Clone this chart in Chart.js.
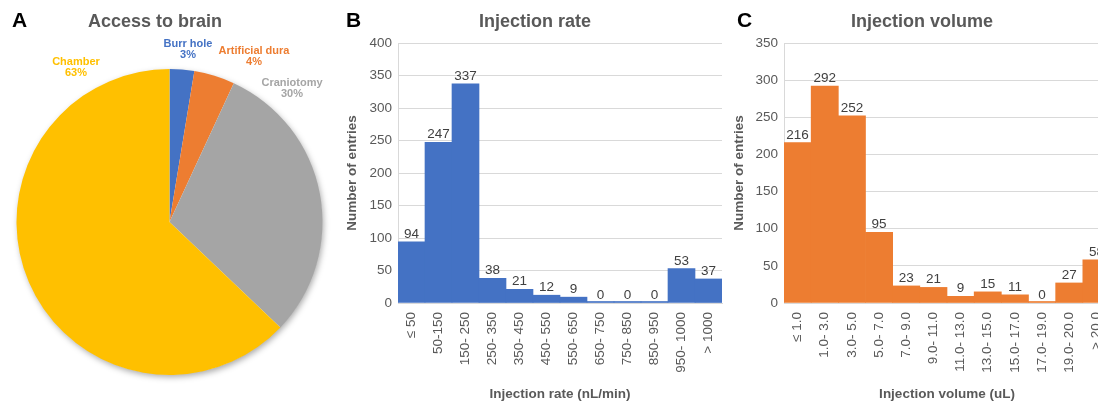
<!DOCTYPE html>
<html><head><meta charset="utf-8">
<script src="https://cdn.jsdelivr.net/npm/chart.js@4"></script>
<style>
html,body{margin:0;padding:0;width:1098px;height:402px;overflow:hidden;background:#fff;}
body{position:relative;font-family:'Liberation Sans',Arial,Helvetica,sans-serif;}
canvas{position:absolute;top:0;}
.t{position:absolute;white-space:nowrap;}
.letter{font-weight:bold;font-size:21px;line-height:21px;color:#000;}
.title{font-weight:bold;font-size:18px;line-height:18px;color:#595959;text-align:center;width:240px;}
.pl{font-weight:bold;font-size:11px;line-height:11.3px;text-align:center;width:120px;}
</style></head><body>
<canvas id="pie" width="340" height="402" style="left:0"></canvas>
<canvas id="rate" width="390" height="402" style="left:340px"></canvas>
<canvas id="vol" width="388" height="402" style="left:730px"></canvas>
<div class="t letter" style="left:12px;top:9px">A</div>
<div class="t letter" style="left:346px;top:9px">B</div>
<div class="t letter" style="left:737px;top:9px">C</div>
<div class="t title" style="left:35px;top:12px">Access to brain</div>
<div class="t title" style="left:415px;top:12px">Injection rate</div>
<div class="t title" style="left:802px;top:12px">Injection volume</div>
<script>
// ---- data ----
const accessLabels = ['Burr hole', 'Artificial dura', 'Craniotomy', 'Chamber'];
const accessValues = [2.6, 4.3, 30.2, 62.9];
const accessColors = ['#4472C4', '#ED7D31', '#A5A5A5', '#FFC000'];

const rateLabels = ['\u2264 50', '50-150', '150- 250', '250- 350', '350- 450', '450- 550', '550- 650', '650- 750', '750- 850', '850- 950', '950- 1000', '> 1000'];
const rateValues = [94, 247, 337, 38, 21, 12, 9, 0, 0, 0, 53, 37];

const volLabels = ['\u2264 1.0', '1.0- 3.0', '3.0- 5.0', '5.0- 7.0', '7.0- 9.0', '9.0- 11.0', '11.0- 13.0', '13.0- 15.0', '15.0- 17.0', '17.0- 19.0', '19.0- 20.0', '> 20.0'];
const volValues = [216, 292, 252, 95, 23, 21, 9, 15, 11, 0, 27, 58];

// ---- layout for pie labels (centre x, top y) ----
const pieLabelPos = [[188, 38.2], [254, 44.8], [292, 76.5], [76, 55.8]];

Chart.defaults.font.family = "'Liberation Sans', Arial, Helvetica, sans-serif";

accessLabels.forEach((lab, i) => {
  const d = document.createElement('div');
  d.className = 't pl';
  d.style.left = (pieLabelPos[i][0] - 60) + 'px';
  d.style.top = pieLabelPos[i][1] + 'px';
  d.style.color = accessColors[i];
  d.innerHTML = lab + '<br>' + Math.round(accessValues[i]) + '%';
  document.body.appendChild(d);
});

const pieShadow = {
  id: 'pieShadow',
  beforeDatasetsDraw(chart) {
    const arc = chart.getDatasetMeta(0).data[0];
    if (!arc) return;
    const ctx = chart.ctx;
    ctx.save();
    ctx.shadowColor = 'rgba(0,0,0,0.35)';
    ctx.shadowBlur = 6;
    ctx.shadowOffsetX = 1.5;
    ctx.shadowOffsetY = 2.5;
    ctx.beginPath();
    ctx.arc(arc.x, arc.y, arc.outerRadius - 0.5, 0, Math.PI * 2);
    ctx.fillStyle = '#fff';
    ctx.fill();
    ctx.restore();
  }
};

new Chart(document.getElementById('pie'), {
  type: 'pie',
  data: { labels: accessLabels, datasets: [{ data: accessValues, backgroundColor: accessColors, borderWidth: 0, hoverOffset: 0 }] },
  options: {
    responsive: false, animation: false, events: [],
    layout: { padding: { left: 16.5, right: 17.5, top: 69, bottom: 27 } },
    plugins: { legend: { display: false }, tooltip: { enabled: false } }
  },
  plugins: [pieShadow]
});

const barLabels = {
  id: 'barLabels',
  afterDatasetsDraw(chart) {
    const ctx = chart.ctx;
    const meta = chart.getDatasetMeta(0);
    const ys = chart.scales.y;
    const vals = chart.data.datasets[0].data;
    ctx.save();
    ctx.font = '13.5px ' + Chart.defaults.font.family;
    ctx.fillStyle = '#404040';
    ctx.textAlign = 'center';
    ctx.textBaseline = 'alphabetic';
    meta.data.forEach((bar, i) => {
      ctx.fillText(String(vals[i]), bar.x, ys.getPixelForValue(vals[i]) - 4);
    });
    ctx.restore();
  }
};

function barChart(id, labels, values, color, max, yWidth, yTitlePad, xTitle) {
  return new Chart(document.getElementById(id), {
    type: 'bar',
    data: { labels, datasets: [{ data: values, backgroundColor: color, borderWidth: 0, categoryPercentage: 1, barPercentage: 1, minBarLength: 1.5 }] },
    options: {
      responsive: false, animation: false, events: [],
      layout: { padding: { top: 43, right: 8, left: 0, bottom: 0 } },
      plugins: { legend: { display: false }, tooltip: { enabled: false } },
      scales: {
        x: {
          grid: { display: false },
          border: { display: true, color: '#d9d9d9' },
          ticks: { autoSkip: false, maxRotation: 90, minRotation: 90, padding: 1, color: '#595959', font: { size: 13.5 } },
          title: { display: true, text: xTitle, color: '#595959', font: { size: 13.5, weight: 'bold' }, padding: { top: 0, bottom: 0 } },
          afterFit(s) { s.height = 99; }
        },
        y: {
          min: 0, max: max,
          ticks: { stepSize: 50, padding: 6, color: '#595959', font: { size: 13.5 } },
          grid: { color: '#d9d9d9', drawTicks: false },
          border: { display: true, color: '#d9d9d9' },
          title: { display: true, text: 'Number of entries', color: '#595959', font: { size: 13.5, weight: 'bold' }, padding: { top: yTitlePad, bottom: 0 } },
          afterFit(s) { s.width = yWidth; }
        }
      }
    },
    plugins: [barLabels]
  });
}

barChart('rate', rateLabels, rateValues, '#4472C4', 400, 58, 4, 'Injection rate (nL/min)');
barChart('vol', volLabels, volValues, '#ED7D31', 350, 54, 1, 'Injection volume (uL)');
</script>
</body></html>
